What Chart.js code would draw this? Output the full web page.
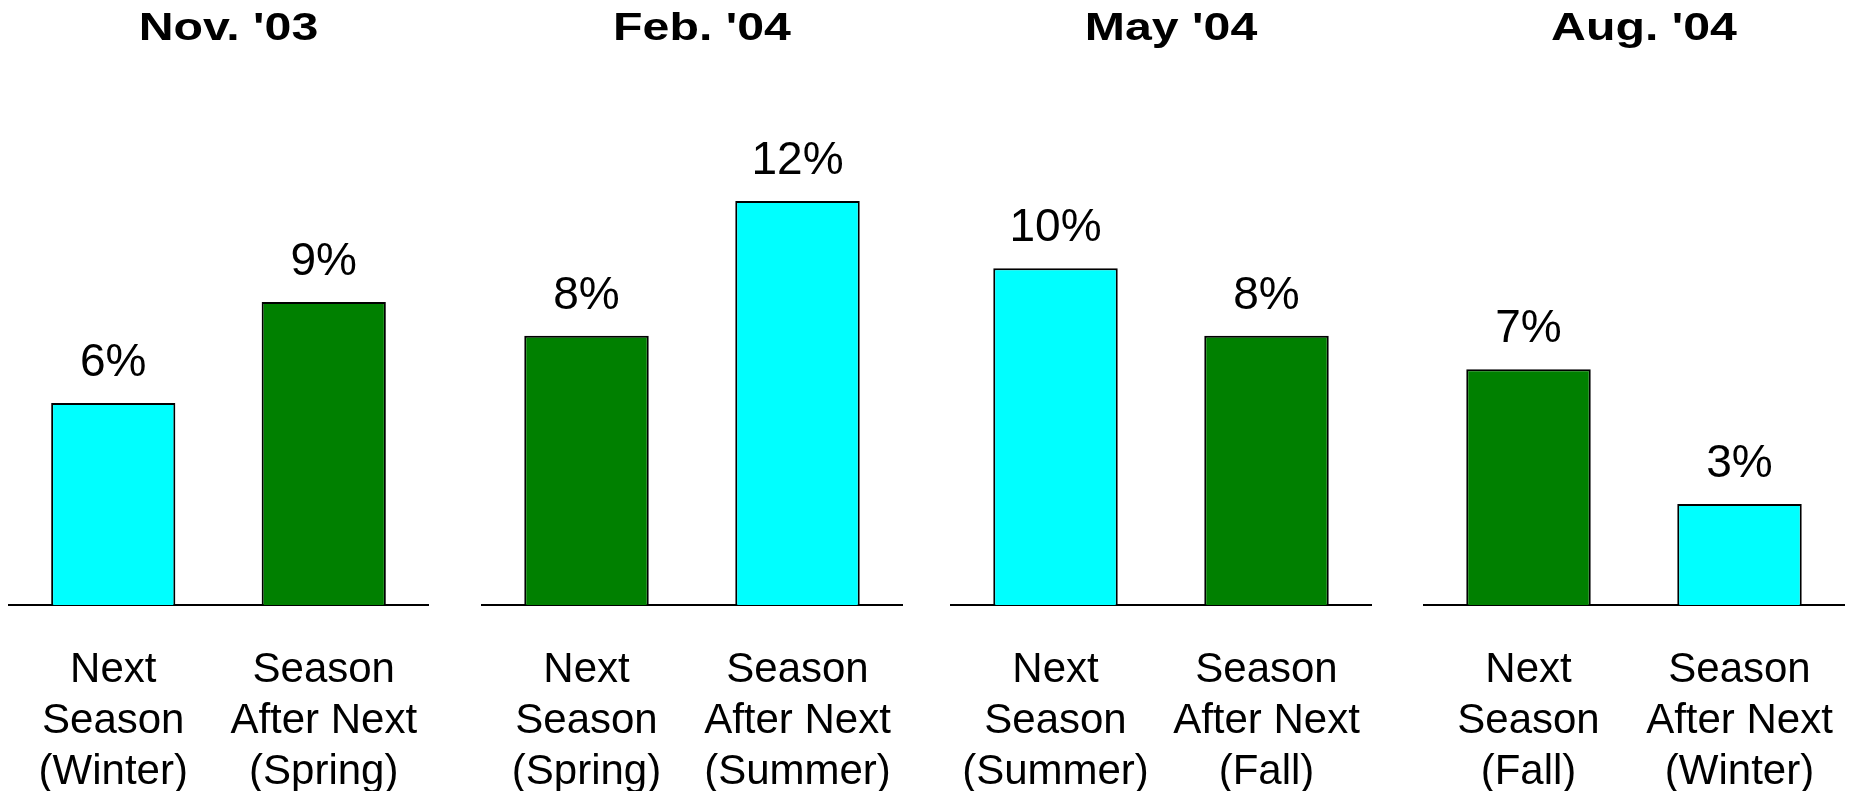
<!DOCTYPE html>
<html>
<head>
<meta charset="utf-8">
<script src="https://cdn.jsdelivr.net/npm/chart.js@4"></script>
<style>
  body { margin: 0; background: #fff; }
  .panel { position: absolute; top: 0; }
</style>
</head>
<body>
<div id="charts"></div>
<script>
// survey waves
const panelTitles = ["Nov. '03", "Feb. '04", "May '04", "Aug. '04"]
const nextSeasonNames = ['Winter', 'Spring', 'Summer', 'Fall']
const afterNextNames = ['Spring', 'Summer', 'Fall', 'Winter']
const nextSeasonValues = [6, 8, 10, 7]
const afterNextValues = [9, 12, 8, 3]
const yMax = 15

// look
const seasonColors = { Winter: '#00FFFF', Summer: '#00FFFF', Spring: '#008000', Fall: '#008000' }
const panelLefts = [8, 481, 950, 1423]
const panelWidths = [421, 422, 422, 422]
const canvasHeight = 791
const fontFamily = '"Liberation Sans", Arial, sans-serif'

const container = document.getElementById('charts')

const titlePlugin = {
    id: 'panelTitle',
    afterDraw(chart, args, opts) {
        const ctx = chart.ctx
        ctx.save()
        ctx.font = 'bold 38px ' + fontFamily
        ctx.fillStyle = '#000'
        ctx.textAlign = 'center'
        ctx.textBaseline = 'alphabetic'
        // the original title type is drawn wider than normal
        ctx.translate(chart.width / 2 + 10, 40)
        ctx.scale(1.27, 1)
        ctx.fillText(opts.text, 0, 0)
        ctx.restore()
    }
}

const valueLabels = {
    id: 'valueLabels',
    afterDatasetsDraw(chart) {
        const ctx = chart.ctx
        const meta = chart.getDatasetMeta(0)
        ctx.save()
        ctx.font = '46px ' + fontFamily
        ctx.fillStyle = '#000'
        ctx.textAlign = 'center'
        ctx.textBaseline = 'alphabetic'
        meta.data.forEach((bar, i) => {
            const v = chart.data.datasets[0].data[i]
            ctx.fillText(v + '%', bar.x, bar.y - 27)
        })
        ctx.restore()
    }
}

panelTitles.forEach((title, i) => {
    const wrap = document.createElement('div')
    wrap.className = 'panel'
    wrap.style.left = panelLefts[i] + 'px'
    const canvas = document.createElement('canvas')
    canvas.width = panelWidths[i]
    canvas.height = canvasHeight
    wrap.appendChild(canvas)
    container.appendChild(wrap)

    const seasons = [nextSeasonNames[i], afterNextNames[i]]
    new Chart(canvas, {
        type: 'bar',
        data: {
            labels: [
                ['Next', 'Season', '(' + seasons[0] + ')'],
                ['Season', 'After Next', '(' + seasons[1] + ')']
            ],
            datasets: [{
                data: [nextSeasonValues[i], afterNextValues[i]],
                backgroundColor: seasons.map(s => seasonColors[s]),
                borderColor: '#000',
                borderWidth: 2,
                barPercentage: 1,
                categoryPercentage: 0.59
            }]
        },
        options: {
            responsive: false,
            animation: false,
            layout: { padding: { top: 100, left: 0, right: 0, bottom: 0 } },
            plugins: {
                legend: { display: false },
                tooltip: { enabled: false },
                panelTitle: { text: title }
            },
            scales: {
                x: {
                    grid: { display: false, drawTicks: false },
                    border: { display: true, color: '#000', width: 2 },
                    ticks: {
                        color: '#000',
                        padding: 40,
                        maxRotation: 0,
                        autoSkip: false,
                        font: { family: fontFamily, size: 42, lineHeight: 1.21 }
                    },
                    afterFit: scale => {
                        scale.height = canvasHeight - 605
                        scale.paddingLeft = 0
                        scale.paddingRight = 0
                    }
                },
                y: {
                    display: false,
                    min: 0,
                    max: yMax
                }
            }
        },
        plugins: [titlePlugin, valueLabels]
    })
})
</script>
</body>
</html>
